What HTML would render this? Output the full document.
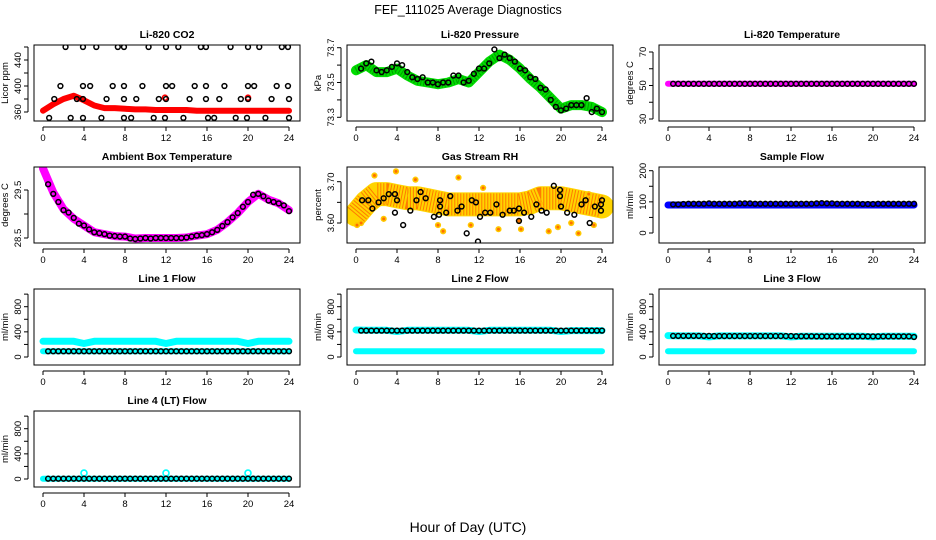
<!DOCTYPE html>
<html><head><meta charset="utf-8"><style>
html,body{margin:0;padding:0;background:#fff}
svg{display:block;font-family:"Liberation Sans",sans-serif}
</style></head><body>
<svg id="chart" width="936" height="540" viewBox="0 0 936 540" xmlns="http://www.w3.org/2000/svg">
<text x="468" y="14" text-anchor="middle" font-size="12.5">FEF_111025  Average Diagnostics</text>
<text x="468" y="532" text-anchor="middle" font-size="14">Hour of Day (UTC)</text>
</svg>
<script>
// ---- data ----
const hours = [0,1,2,3,4,5,6,7,8,9,10,11,12,13,14,15,16,17,18,19,20,21,22,23,24];
const halfHours = [0.5,1,1.5,2,2.5,3,3.5,4,4.5,5,5.5,6,6.5,7,7.5,8,8.5,9,9.5,10,10.5,11,11.5,12,12.5,13,13.5,14,14.5,15,15.5,16,16.5,17,17.5,18,18.5,19,19.5,20,20.5,21,21.5,22,22.5,23,23.5,24];
const xTicks = [0,4,8,12,16,20,24];

const co2Band = [362,372,380,385,378,370,366,366,365,364,364,363,363,363,363,362,362,362,362,362,362,362,362,362,362];
const co2PtHours = [2.2,3.9,5.2,7.3,7.9,10.3,12,13.2,15.4,15.9,18.3,20,21.1,23.3,23.9,1.7,3.9,4.6,6.8,7.9,9.7,12,12.6,14.8,15.9,17.7,20,20.6,22.8,23.9,1.1,3.3,3.9,6.2,7.9,9.1,11.3,12,14.3,15.9,17.2,19.3,20,22.3,24,0.6,2.7,3.9,5.7,7.9,8.6,10.8,11.9,13.7,16.1,16.7,18.8,19.9,21.7,24];
const co2PtValues = [460,460,460,460,460,460,460,460,460,460,460,460,460,460,460,400,400,400,400,400,400,400,400,400,400,400,400,400,400,400,380,380,380,380,380,380,380,380,380,380,380,380,380,380,380,351,351,351,351,351,351,351,351,351,351,351,351,351,351,351];

const pressBand = [73.57,73.6,73.56,73.56,73.58,73.54,73.51,73.5,73.49,73.5,73.52,73.5,73.56,73.62,73.66,73.63,73.58,73.52,73.47,73.41,73.35,73.37,73.37,73.36,73.33];
const pressPts = [73.58,73.61,73.62,73.57,73.56,73.57,73.59,73.61,73.60,73.56,73.53,73.52,73.53,73.50,73.50,73.49,73.50,73.50,73.54,73.54,73.50,73.51,73.55,73.58,73.58,73.61,73.69,73.64,73.66,73.64,73.62,73.58,73.57,73.53,73.52,73.47,73.46,73.40,73.36,73.34,73.35,73.37,73.37,73.37,73.41,73.33,73.35,73.33];

const liTempBand = [51,51,51,51,51,51,51,51,51,51,51,51,51,51,51,51,51,51,51,51,51,51,51,51,51];
const liTempPts = [51,51,51,51,51,51,51,51,51,51,51,51,51,51,51,51,51,51,51,51,51,51,51,51,51,51,51,51,51,51,51,51,51,51,51,51,51,51,51,51,51,51,51,51,51,51,51,51];

const ambBand = [29.95,29.45,29.1,28.9,28.76,28.62,28.58,28.54,28.53,28.49,28.5,28.5,28.5,28.5,28.51,28.55,28.58,28.67,28.83,29.02,29.25,29.42,29.3,29.22,29.08];
const ambPts = [29.62,29.42,29.25,29.08,29.03,28.92,28.8,28.76,28.68,28.62,28.6,28.58,28.55,28.54,28.53,28.53,28.49,28.48,28.49,28.5,28.49,28.5,28.5,28.5,28.5,28.5,28.5,28.51,28.53,28.55,28.56,28.58,28.62,28.67,28.75,28.83,28.93,29.02,29.15,29.25,29.4,29.42,29.37,29.28,29.25,29.22,29.18,29.06];

const rhBand = [3.62,3.65,3.67,3.67,3.665,3.66,3.66,3.655,3.65,3.645,3.645,3.645,3.645,3.645,3.645,3.645,3.645,3.65,3.66,3.66,3.66,3.655,3.65,3.645,3.64];
const rhPtHours = [0.6,1.2,1.6,2.2,2.7,3.2,3.8,4,3.8,4.6,5.3,5.9,6.3,6.8,7.6,8.1,8.2,8.2,8.8,9.2,9.9,10.3,10.8,11.3,11.7,11.9,12.1,12.6,13.1,13.7,14.3,15,15.4,15.9,15.9,16.4,17.1,17.6,18.1,18.6,19.3,19.9,19.9,20,20.6,21.3,22,22.4,22.8,23.3,23.9,23.9,24];
const rhPtValues = [3.655,3.655,3.635,3.65,3.66,3.67,3.67,3.655,3.625,3.595,3.63,3.655,3.675,3.66,3.615,3.62,3.64,3.655,3.625,3.665,3.63,3.64,3.575,3.655,3.65,3.555,3.615,3.625,3.625,3.645,3.62,3.63,3.63,3.635,3.605,3.625,3.615,3.645,3.63,3.625,3.69,3.68,3.665,3.64,3.625,3.62,3.645,3.655,3.6,3.64,3.63,3.645,3.655];
const rhOutHours = [0.1,0.5,1.8,2.7,3.9,5.8,8,8.5,10,11.2,12.4,13.9,15.9,16.1,18.8,19.7,21,21.7,22.7,23.2];
const rhOutValues = [3.595,3.6,3.715,3.61,3.725,3.705,3.595,3.58,3.71,3.595,3.685,3.585,3.605,3.585,3.58,3.59,3.6,3.575,3.67,3.595];

const sfBand = [90,90,90,90,90,90,90,90,90,90,90,90,90,90,90,90,90,90,90,90,90,90,90,90,90];
const sfPts = [92,92,93,94,94,94,94,95,94,94,94,94,94,95,95,95,94,94,94,94,94,94,94,94,94,94,94,94,95,96,95,95,94,94,94,94,94,93,93,93,94,94,94,94,94,94,94,94];

const l1Cyan = [250,250,250,250,215,250,250,250,250,250,250,250,215,250,250,250,250,250,250,250,215,250,250,250,250];
const l1CyanLow = [90,90,90,90,90,90,90,90,90,90,90,90,90,90,90,90,90,90,90,90,90,90,90,90,90];
const l1Pts = [92,92,92,92,92,92,92,92,92,92,92,92,92,92,92,92,92,92,92,92,92,92,92,92,92,92,92,92,92,92,92,92,92,92,92,92,92,92,92,92,92,92,92,92,92,92,92,92];

const l2Cyan = [430,425,425,425,405,425,425,425,425,425,425,425,405,425,425,425,425,425,425,425,405,420,420,420,420];
const l2CyanLow = [90,90,90,90,90,90,90,90,90,90,90,90,90,90,90,90,90,90,90,90,90,90,90,90,90];
const l2Pts = [420,420,420,420,420,420,420,420,420,420,420,420,420,420,420,420,420,420,420,420,420,420,420,420,420,420,420,420,420,420,420,420,420,420,420,420,420,420,420,420,420,420,420,420,420,420,420,420];

const l3Cyan = [340,335,335,335,320,335,335,335,335,335,335,335,320,330,330,330,330,330,330,330,320,330,330,330,330];
const l3CyanLow = [90,90,90,90,90,90,90,90,90,90,90,90,90,90,90,90,90,90,90,90,90,90,90,90,90];
const l3Pts = [335,335,335,335,335,335,335,335,333,333,333,333,333,333,333,333,333,333,333,333,333,333,333,333,330,330,330,330,328,328,328,328,328,328,328,328,328,328,328,328,328,328,328,328,328,328,328,318];

const l4Cyan = [5,5,5,5,5,5,5,5,5,5,5,5,5,5,5,5,5,5,5,5,5,5,5,5,5];
const l4OutHours = [4,12,20];
const l4OutValues = [95,95,95];
const l4Pts = [5,5,5,5,5,5,5,5,5,5,5,5,5,5,5,5,5,5,5,5,5,5,5,5,5,5,5,5,5,5,5,5,5,5,5,5,5,5,5,5,5,5,5,5,5,5,5,5];

// ---- drawing ----
const svg = document.getElementById('chart');
const NS = 'http://www.w3.org/2000/svg';
const colX0 = [43,356,668];
const XW = 246;
function mk(tag, attrs, parent){
  const e = document.createElementNS(NS, tag);
  for (const k in attrs) e.setAttribute(k, attrs[k]);
  (parent||svg).appendChild(e);
  return e;
}
function panel(o){
  const x0 = colX0[o.col], top = 45 + 122*o.row, bot = top + 76;
  const left = x0 - 9, right = x0 + XW + 11;
  const xs = h => x0 + h/24*XW;
  const off = 122*(o.row - o.refRow);
  const ys = v => o.p1 + off + (v - o.v1)/(o.v2 - o.v1)*(o.p2 - o.p1);
  const g = mk('g', {});
  
  
  const cp = 'clip-' + o.name;
  const cl = mk('clipPath', {id: cp}, g);
  mk('rect', {x: left, y: top, width: right-left, height: bot-top}, cl);
  const plot = mk('g', {'clip-path': 'url(#' + cp + ')'}, g);
  (o.bands||[]).forEach(b => {
    const pts = b.vals.map((v,i) => xs(hours[i]).toFixed(1) + ',' + ys(v).toFixed(1)).join(' ');
    const pl = mk('polyline', {points: pts, fill: 'none', stroke: b.color, 'stroke-width': b.w, 'stroke-linejoin': 'round', 'stroke-linecap': 'round'}, plot);
    
    
    if (b.dots) {
      const pl2 = mk('polyline', {points: pts, fill: 'none', stroke: b.dots, 'stroke-width': b.w - 2, 'stroke-dasharray': '1 2', 'stroke-linejoin': 'round', opacity: 0.6}, plot);
      
      
    }
  });
  (o.cpts||[]).forEach(s => {
    s.h.forEach((h,i) => {
      const c = mk('circle', {cx: xs(h), cy: ys(s.v[i]), r: s.r||2.5, fill: s.fill||'none', stroke: s.color, 'stroke-width': 1.6}, plot);
      
      
    });
  });
  (o.pts||[]).forEach(s => {
    s.h.forEach((h,i) => {
      const c = mk('circle', {cx: xs(h), cy: ys(s.v[i]), r: 2.4, fill: 'none', stroke: '#000', 'stroke-width': 1.5}, plot);
      
      
    });
  });
  const box = mk('rect', {x: left, y: top, width: right-left, height: bot-top, fill: 'none', stroke: '#000', 'stroke-width': 1}, g);
  
  
  const t = mk('text', {x: (left+right)/2, y: top - 7, 'text-anchor': 'middle', 'font-size': 10.5, 'font-weight': 'bold'}, g);
  t.textContent = o.title;
  
  
  mk('line', {x1: xs(0), x2: xs(24), y1: bot+6, y2: bot+6, stroke: '#000'}, g);
  xTicks.forEach(h => {
    mk('line', {x1: xs(h), x2: xs(h), y1: bot+6, y2: bot+10, stroke: '#000'}, g);
    const tx = mk('text', {x: xs(h), y: bot+20, 'text-anchor': 'middle', 'font-size': 9.5}, g);
    tx.textContent = h;
    
    
  });
  const yt = o.ticks;
  mk('line', {x1: left-6, x2: left-6, y1: ys(yt[0]), y2: ys(yt[yt.length-1]), stroke: '#000'}, g);
  yt.forEach(v => {
    const y = ys(v);
    mk('line', {x1: left-10, x2: left-6, y1: y, y2: y, stroke: '#000'}, g);
  });
  o.labels.forEach(lb => {
    const y = ys(parseFloat(lb));
    const tx = mk('text', {x: left-13, y: y, 'text-anchor': 'middle', 'font-size': 9.5, transform: 'rotate(-90 ' + (left-13) + ' ' + y + ')'}, g);
    tx.textContent = lb;
    
    
  });
  const yl = mk('text', {x: left-26, y: (top+bot)/2, 'text-anchor': 'middle', 'font-size': 9.5, transform: 'rotate(-90 ' + (left-26) + ' ' + ((top+bot)/2) + ')'}, g);
  yl.textContent = o.ylab;
  
  
}

panel({name:'co2', title:'Li-820 CO2', col:0, row:0, refRow:0, v1:360, p1:112, v2:440, p2:60,
  ticks:[360,380,400,420,440,460], labels:['360','400','440'], ylab:'Licor ppm',
  bands:[{vals:co2Band, color:'#ff0000', w:6}],
  cpts:[{h:[11.9,20], v:[382,382], color:'#ff0000'}],
  pts:[{h:co2PtHours, v:co2PtValues}]});
panel({name:'pressure', title:'Li-820 Pressure', col:1, row:0, refRow:0, v1:73.3, p1:117.3, v2:73.7, p2:47.7,
  ticks:[73.3,73.4,73.5,73.6,73.7], labels:['73.3','73.5','73.7'], ylab:'kPa',
  bands:[{vals:pressBand, color:'#00dd00', w:10, dots:'#007700'}],
  pts:[{h:halfHours, v:pressPts}]});
panel({name:'li-temp', title:'Li-820 Temperature', col:2, row:0, refRow:0, v1:30, p1:119, v2:70, p2:52,
  ticks:[30,40,50,60,70], labels:['30','50','70'], ylab:'degrees C',
  bands:[{vals:liTempBand, color:'#ff00ff', w:6}],
  pts:[{h:halfHours, v:liTempPts}]});
panel({name:'ambient', title:'Ambient Box Temperature', col:0, row:1, refRow:1, v1:28.5, p1:238, v2:29.5, p2:190,
  ticks:[28.5,29,29.5], labels:['28.5','29.5'], ylab:'degrees C',
  bands:[{vals:ambBand, color:'#ff00ff', w:8}],
  pts:[{h:halfHours, v:ambPts}]});
panel({name:'rh', title:'Gas Stream RH', col:1, row:1, refRow:1, v1:3.6, p1:223, v2:3.7, p2:181.7,
  ticks:[3.6,3.65,3.7], labels:['3.60','3.70'], ylab:'percent',
  bands:[{vals:rhBand, color:'#ffd400', w:24, dots:'#ff4000'}],
  cpts:[{h:rhOutHours, v:rhOutValues, color:'#ffc800', fill:'#ff7000', r:2.3}],
  pts:[{h:rhPtHours, v:rhPtValues}]});
panel({name:'sample-flow', title:'Sample Flow', col:2, row:1, refRow:1, v1:0, p1:233, v2:200, p2:170.7,
  ticks:[0,50,100,150,200], labels:['0','100','200'], ylab:'ml/min',
  bands:[{vals:sfBand, color:'#0000ff', w:7}],
  pts:[{h:halfHours, v:sfPts}]});
panel({name:'line1', title:'Line 1 Flow', col:0, row:2, refRow:2, v1:0, p1:357, v2:800, p2:306.7,
  ticks:[0,200,400,600,800,1000], labels:['0','400','800'], ylab:'ml/min',
  bands:[{vals:l1Cyan, color:'#00ffff', w:7},{vals:l1CyanLow, color:'#00ffff', w:6}],
  pts:[{h:halfHours, v:l1Pts}]});
panel({name:'line2', title:'Line 2 Flow', col:1, row:2, refRow:2, v1:0, p1:357, v2:800, p2:306.7,
  ticks:[0,200,400,600,800,1000], labels:['0','400','800'], ylab:'ml/min',
  bands:[{vals:l2Cyan, color:'#00ffff', w:7},{vals:l2CyanLow, color:'#00ffff', w:6}],
  pts:[{h:halfHours, v:l2Pts}]});
panel({name:'line3', title:'Line 3 Flow', col:2, row:2, refRow:2, v1:0, p1:357, v2:800, p2:306.7,
  ticks:[0,200,400,600,800,1000], labels:['0','400','800'], ylab:'ml/min',
  bands:[{vals:l3Cyan, color:'#00ffff', w:7},{vals:l3CyanLow, color:'#00ffff', w:6}],
  pts:[{h:halfHours, v:l3Pts}]});
panel({name:'line4', title:'Line 4 (LT) Flow', col:0, row:3, refRow:2, v1:0, p1:357, v2:800, p2:306.7,
  ticks:[0,200,400,600,800,1000], labels:['0','400','800'], ylab:'ml/min',
  bands:[{vals:l4Cyan, color:'#00ffff', w:6}],
  cpts:[{h:l4OutHours, v:l4OutValues, color:'#00ffff', r:3}],
  pts:[{h:halfHours, v:l4Pts}]});
</script>
</body></html>
